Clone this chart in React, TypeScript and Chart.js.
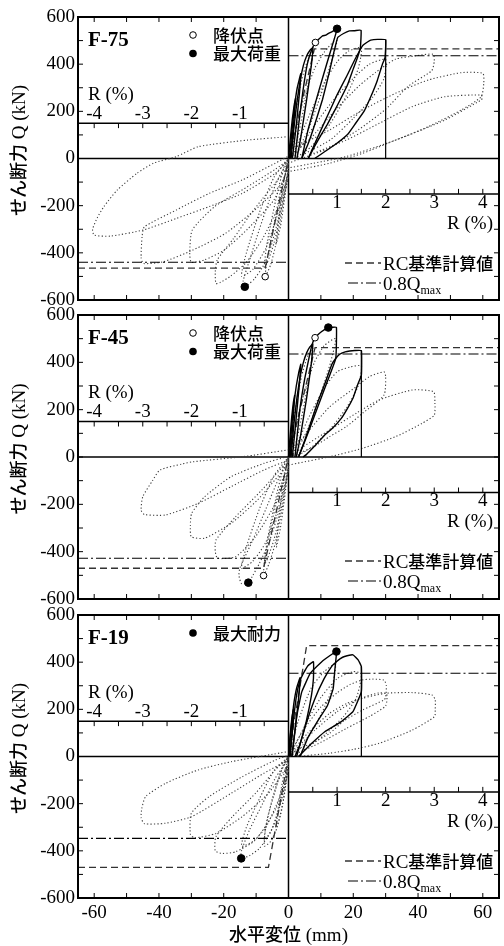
import { useEffect, useRef } from "react";
import { Chart, registerables } from "chart.js";

Chart.register(...registerables);

type Pt = [number, number];

// ---- shared axes ----
const X_RANGE: Pt = [-65, 65];
const Y_RANGE: Pt = [-600, 600];
const X_TICK_LABELS = [-60, -40, -20, 0, 20, 40, 60];
const Y_TICK_LABELS = [-600, -400, -200, 0, 200, 400, 600];
const X_MINOR_STEP = 10;
const Y_MINOR_STEP = 100;
const R_LABELS_NEG = [-4, -3, -2, -1];
const R_LABELS_POS = [1, 2, 3, 4];
const R_MINOR = [0.5, 1, 1.5, 2, 2.5, 3, 3.5, 4];
const MM_PER_R = 15; // 1 % drift = 15 mm
const R_AXIS_Q = 150;

// ---- F-75 ----
const F75_SOLID: Pt[][] = [
  [[0, 0], [0.6, 90], [1.2, 170], [1.8, 230], [2.2, 255], [1.6, 150], [0.9, 50], [0.5, 0]],
  [[0.3, 0], [1.0, 110], [1.8, 215], [2.7, 300], [3.8, 360], [3.4, 280], [2.4, 140], [1.2, 0]],
  [[0.8, 0], [1.6, 120], [2.6, 240], [3.6, 330], [4.6, 395], [5.6, 435], [6.6, 458], [7.5, 470], [7.1, 400], [5.6, 250], [3.8, 90], [2.6, 0]],
  [[2.0, 0], [3.2, 150], [4.5, 290], [5.8, 400], [7.0, 455], [8.3, 492], [9.5, 508], [10.5, 520], [11.5, 523], [12.5, 532], [13.5, 538], [15, 550], [14.2, 510], [12, 410], [9, 270], [6, 120], [4.1, 0]],
  [[4.1, 0], [6, 60], [8, 140], [10.5, 250], [12.5, 360], [14, 450], [15.2, 513], [17, 530], [18.8, 541], [20.5, 542], [22.4, 544], [22.2, 471], [21.3, 428], [20, 380], [18.3, 315], [16, 250], [14.2, 202], [12, 145], [10.2, 103], [8, 50], [6.1, 0]],
  [[6.1, 0], [9, 90], [12, 180], [15, 270], [18, 350], [20.5, 420], [22, 458], [23, 480], [24.5, 495], [25.4, 502], [27.5, 505], [30, 504], [29.8, 428], [29, 400], [27.4, 330], [25.5, 265], [23.4, 202], [20.5, 145], [18.3, 103], [14, 55], [8.1, 0]],
];
const F75_DROP: Pt[] = [[30, 504], [30, 0]];
const F75_DOTTED: Pt[][] = [
  [[0, -20], [-1, -150], [-2.5, -290], [-3.75, -360], [-3, -250], [-1.5, -100], [0, 0]],
  [[0, -60], [-2, -220], [-4, -370], [-5.5, -450], [-7.2, -501], [-6.5, -420], [-4.5, -280], [-2.5, -140], [0, -20]],
  [[0, -40], [-2, -200], [-4.5, -360], [-6.5, -440], [-7.5, -460], [-6.5, -350], [-4, -180], [-1.5, -40], [0, 0]],
  [[0, -80], [-3, -250], [-6, -400], [-8, -460], [-10.5, -510], [-12.5, -535], [-13.5, -544], [-14, -520], [-12, -430], [-9, -300], [-6, -180], [-3, -80], [0, -10]],
  [[0, -50], [-3, -220], [-7, -380], [-11, -470], [-14.5, -500], [-13, -400], [-9, -230], [-4.5, -80], [0, 0]],
  [[0, -60], [-3, -200], [-8, -340], [-13, -440], [-18, -500], [-21, -525], [-22.4, -530], [-22.6, -480], [-22, -430], [-17, -340], [-12.3, -247], [-8, -170], [-4.1, -105], [0, -30]],
  [[0, -40], [-4.5, -176], [-12.7, -300], [-20, -390], [-26, -430], [-30, -440], [-30.5, -400], [-29.7, -303], [-22.8, -204], [-12.7, -120], [-4, -45], [0, -5]],
  [[0, -20], [-2.1, -105], [-9.2, -204], [-19.4, -317], [-29.5, -388], [-38.7, -438], [-44.8, -445], [-45.5, -420], [-45.2, -330], [-44.5, -290], [-34.6, -218], [-24.5, -148], [-14.3, -91], [-4.1, -20], [0, 10]],
  [[0, -6], [-4.1, -63], [-14.3, -148], [-24.5, -204], [-34.6, -254], [-44.8, -303], [-54.9, -329], [-60, -325], [-60.5, -300], [-59, -250], [-57, -204], [-52.9, -134], [-46.8, -63], [-41.7, -20], [-34.6, 8], [-27.9, 50], [-12.7, 78], [-0.5, 92]],
  [[0, 0], [2, 180], [4, 330], [6, 420], [7.5, 455], [6.5, 350], [4.5, 200], [2.5, 70], [0.5, 0]],
  [[0.5, 0], [4, 220], [8, 380], [11, 450], [13.5, 490], [15, 500], [13, 400], [10, 270], [6, 120], [2, 10]],
  [[1, 0], [6, 170], [11, 320], [15, 410], [18.5, 455], [22.5, 470], [21.5, 380], [18, 270], [13, 150], [7, 50], [2, 0]],
  [[2, 10], [8, 140], [14, 250], [20, 340], [25, 400], [30, 420], [29.5, 340], [26, 260], [20, 170], [13, 80], [5, 20]],
  [[0.5, 11], [6.6, 82], [14.7, 209], [21.8, 308], [26.9, 365], [33, 421], [39.1, 435], [44.7, 442], [45, 410], [44.2, 372], [37.1, 308], [30, 209], [21.8, 124], [11.7, 40], [0.5, -17]],
  [[2.6, 50], [12.7, 121], [22.9, 206], [33.1, 277], [43.2, 333], [53.4, 364], [60, 361], [60.3, 320], [59.5, 262], [53.4, 206], [43.2, 135], [33.1, 78], [22.9, 22], [12.7, -20], [2.6, -49], [0, -55]],
  [[7.7, 22], [17.8, 78], [28, 149], [38.2, 220], [48.3, 262], [59.5, 269], [59.8, 255], [59.5, 248], [48.3, 163], [33.1, 78], [17.8, 8], [7.7, -20], [0, -40]],
];
const F75_RC: Pt[] = [[-65, -465], [-7.2, -465], [0, 0], [8, 465], [65, 465]];
const F75_Q08: Pt[][] = [[[0, 436], [65, 436]], [[-65, -440], [0, -440]]];
const F75_YIELD: Pt[] = [[8.3, 492], [-7.2, -501]];
const F75_PEAK: Pt[] = [[15, 550], [-13.5, -544]];

// ---- F-45 ----
const F45_SOLID: Pt[][] = [
  [[0, 0], [0.5, 90], [1.0, 170], [1.5, 230], [1.9, 260], [1.3, 130], [0.5, 0]],
  [[0.3, 0], [0.9, 120], [1.6, 220], [2.4, 300], [3.2, 360], [3.8, 392], [3.3, 300], [2.2, 140], [1.2, 0]],
  [[0.8, 0], [1.6, 130], [2.6, 250], [3.6, 340], [4.6, 400], [5.6, 440], [6.6, 465], [7.5, 478], [7.1, 400], [5.6, 250], [3.6, 80], [2.4, 0]],
  [[2.0, 0], [3.5, 200], [5, 330], [6.5, 430], [7.4, 480], [8.2, 504], [9.5, 522], [11, 537], [12.3, 547], [13.5, 548], [14.8, 548], [14.6, 417], [12, 320], [9, 210], [6, 100], [3.1, 0]],
  [[3.1, 0], [5, 70], [7, 150], [9, 230], [11.5, 320], [13.3, 389], [14.5, 415], [15.8, 434], [17.5, 444], [18.9, 448], [20.5, 450], [22.5, 450], [22.5, 346], [21.2, 300], [19.9, 248], [18, 200], [16.3, 163], [13.5, 120], [11.2, 93], [8, 45], [5.5, 10], [4.5, 0]],
];
const F45_DROP: Pt[] = [[22.5, 450], [22.5, 0]];
const F45_DOTTED: Pt[][] = [
  [[0, -20], [-1, -150], [-2.5, -300], [-3.75, -380], [-3, -260], [-1.5, -100], [0, 0]],
  [[0, -50], [-2, -220], [-4, -360], [-6, -450], [-7.7, -501], [-7.3, -430], [-5.5, -300], [-3, -150], [0, -10]],
  [[0, -40], [-2, -200], [-4.5, -350], [-6.5, -430], [-7.5, -455], [-6.5, -350], [-4, -180], [-1.5, -40], [0, 0]],
  [[0, -60], [-3, -230], [-6, -360], [-9, -450], [-11, -500], [-12.4, -531], [-14.5, -535], [-15.3, -500], [-15, -469], [-11, -350], [-7, -220], [-3, -90], [0, -20]],
  [[0, -50], [-3, -210], [-7, -360], [-11, -440], [-14.5, -470], [-13, -380], [-9, -220], [-4.5, -80], [0, 0]],
  [[0, -41], [-4.1, -196], [-10.2, -337], [-16.3, -421], [-21.9, -428], [-22.6, -400], [-22.4, -351], [-16.3, -252], [-8.2, -139], [0, -13]],
  [[0, -20], [-2.5, -69], [-9.6, -182], [-17.7, -280], [-25.9, -343], [-30, -337], [-30.3, -290], [-29.9, -238], [-25.9, -168], [-17.7, -83], [-7.6, -27], [-0.5, 1]],
  [[0, -13], [-7.6, -55], [-17.7, -125], [-27.9, -196], [-38, -245], [-44.5, -243], [-45.5, -225], [-45, -168], [-42, -100], [-39.7, -55], [-33, -30], [-29.5, -20], [-14.3, 1], [0, 30]],
  [[0, 0], [2, 190], [4, 340], [6, 430], [7.5, 460], [6.5, 350], [4.5, 200], [2.5, 70], [0.5, 0]],
  [[0.5, 0], [4, 230], [8, 400], [11, 470], [14.5, 500], [13, 400], [10, 270], [6, 120], [2, 10]],
  [[1, 0], [6, 160], [11, 290], [15, 360], [19, 380], [22.5, 385], [21.5, 300], [18, 210], [13, 120], [7, 40], [2, 0]],
  [[0.6, 16], [5.6, 100], [12.7, 212], [20.9, 297], [24.9, 339], [29.5, 360], [30, 340], [29.5, 262], [22.9, 185], [17.8, 128], [12.7, 86], [7.7, 43], [0.6, 1]],
  [[0.5, 1], [4.6, 44], [12.7, 114], [20.9, 185], [28, 241], [38.2, 283], [44.8, 276], [45.2, 230], [45, 177], [41.2, 142], [33.1, 86], [22.9, 37], [12.7, 1], [2.6, -27], [0, -35]],
];
const F45_RC: Pt[] = [[-65, -470], [-7.7, -470], [0, 0], [8.2, 462], [65, 462]];
const F45_Q08: Pt[][] = [[[0, 435], [65, 435]], [[-65, -428], [0, -428]]];
const F45_YIELD: Pt[] = [[8.2, 504], [-7.7, -501]];
const F45_PEAK: Pt[] = [[12.3, 547], [-12.4, -531]];

// ---- F-19 ----
const F19_SOLID: Pt[][] = [
  [[0, 0], [0.5, 90], [1.0, 160], [1.5, 200], [1.0, 90], [0.4, 0]],
  [[0, 0], [0.8, 120], [1.6, 220], [2.5, 290], [3.6, 335], [3.0, 230], [1.9, 100], [1.0, 0]],
  [[0.5, 0], [1.5, 150], [2.5, 260], [3.5, 320], [4.5, 350], [6, 385], [7.7, 402], [7.7, 331], [7.1, 260], [5.5, 150], [3.5, 50], [2.0, 0]],
  [[1.1, 0], [2.6, 175], [4.1, 274], [6.7, 352], [10.2, 401], [12.5, 425], [14.8, 445], [14.3, 366], [13.8, 288], [12, 215], [9, 150], [6, 80], [3.6, 0]],
  [[2.5, 0], [5, 120], [8, 240], [11, 330], [13.5, 385], [14.8, 402], [16, 415], [17.3, 424], [19.9, 431], [21.5, 410], [22.5, 381], [22.5, 275], [19.9, 190], [16.3, 148], [11.2, 105], [7.2, 56], [3.1, 0]],
];
const F19_DROP: Pt[] = [[22.5, 381], [22.5, 0]];
const F19_DOTTED: Pt[][] = [
  [[0, -10], [-1, -130], [-2.3, -240], [-3.75, -300], [-3, -200], [-1.5, -80], [0, 0]],
  [[0, -40], [-1.5, -180], [-3.5, -300], [-5.5, -360], [-7.5, -380], [-7, -300], [-5, -180], [-2.5, -70], [0, 0]],
  [[0, -30], [-2, -170], [-4.5, -290], [-6.5, -340], [-7.5, -350], [-6.5, -260], [-4, -140], [-1.5, -30], [0, 0]],
  [[0, -60], [-2.5, -200], [-5.5, -320], [-9, -390], [-12, -420], [-14.6, -432], [-14.5, -400], [-12, -310], [-8, -200], [-4, -90], [0, -10]],
  [[0, -40], [-3, -180], [-7, -300], [-11, -360], [-14.5, -380], [-13, -300], [-9, -180], [-4.5, -60], [0, 0]],
  [[0, -60], [-1.1, -114], [-4.1, -227], [-10.2, -354], [-16.3, -404], [-20.4, -411], [-22.6, -400], [-22.4, -340], [-17.3, -255], [-10.2, -156], [-4.1, -57], [0, -5]],
  [[0, -30], [-1.1, -57], [-6.2, -156], [-14.3, -255], [-22.4, -326], [-29, -345], [-30.3, -330], [-30, -241], [-24.5, -170], [-14.3, -86], [-4.1, -15], [0, 5]],
  [[0, -15], [-7.6, -71], [-17.7, -156], [-29.9, -255], [-38, -283], [-44.5, -285], [-45.5, -260], [-45.3, -220], [-44.1, -170], [-38, -114], [-27.9, -57], [-17.7, -22], [-0.5, 20]],
  [[0, 0], [3, 150], [7, 290], [11, 360], [14.5, 390], [13, 270], [9, 150], [4, 40], [0.5, 0]],
  [[0.5, 5], [5, 130], [10, 250], [15, 330], [20, 360], [22.5, 350], [21, 250], [17, 170], [11, 90], [4, 20]],
  [[0.5, 15], [5, 120], [10, 210], [15, 270], [19, 305], [22.9, 325], [26, 328], [29.5, 324], [30.2, 300], [30, 250], [29.5, 240], [22.9, 197], [17, 150], [12.7, 98], [7, 55], [2.6, 28], [0.5, 5]],
  [[0.5, 5], [8, 110], [15, 190], [22, 245], [28, 270], [30.3, 265], [30, 215], [25, 170], [18, 120], [10, 60], [2, 10]],
  [[0.5, 10], [6, 100], [12.7, 183], [18, 225], [22.9, 247], [30, 268], [38.2, 271], [44.3, 261], [45.3, 240], [45.3, 200], [45.1, 169], [38.2, 112], [28, 56], [20, 30], [12.7, 14], [2.6, 0]],
];
const F19_RC: Pt[] = [[-65, -470], [-6.2, -470], [0, 0], [5.6, 470], [65, 470]];
const F19_Q08: Pt[][] = [[[0, 353], [65, 353]], [[-65, -347], [0, -347]]];
const F19_PEAK: Pt[] = [[14.8, 445], [-14.6, -432]];

interface LegendRow { open: boolean; text: string }
interface Panel {
  name: string;
  top: number;
  bottom: number;
  showX: boolean;
  solid: Pt[][];
  dotted: Pt[][];
  drop: Pt[];
  rc: Pt[];
  q08: Pt[][];
  yieldPts: Pt[] | null;
  peakPts: Pt[];
  legend: LegendRow[];
}

const PANELS: Panel[] = [
  { name: "F-75", top: 17, bottom: 300, showX: false, solid: F75_SOLID, dotted: F75_DOTTED, drop: F75_DROP, rc: F75_RC, q08: F75_Q08, yieldPts: F75_YIELD, peakPts: F75_PEAK, legend: [{ open: true, text: "降伏点" }, { open: false, text: "最大荷重" }] },
  { name: "F-45", top: 315, bottom: 599, showX: false, solid: F45_SOLID, dotted: F45_DOTTED, drop: F45_DROP, rc: F45_RC, q08: F45_Q08, yieldPts: F45_YIELD, peakPts: F45_PEAK, legend: [{ open: true, text: "降伏点" }, { open: false, text: "最大荷重" }] },
  { name: "F-19", top: 615, bottom: 898, showX: true, solid: F19_SOLID, dotted: F19_DOTTED, drop: F19_DROP, rc: F19_RC, q08: F19_Q08, yieldPts: null, peakPts: F19_PEAK, legend: [{ open: false, text: "最大耐力" }] },
];

const W = 504;
const H = 946;
const SERIF = '"Liberation Serif", "Times New Roman", serif';
const GOTHIC = '"Noto Sans CJK JP", "Noto Sans", sans-serif';

type Part = { text: string; font: string; dy?: number };

function seg(ctx: CanvasRenderingContext2D, x1: number, y1: number, x2: number, y2: number) {
  ctx.beginPath();
  ctx.moveTo(x1, y1);
  ctx.lineTo(x2, y2);
  ctx.stroke();
}

function drawParts(ctx: CanvasRenderingContext2D, parts: Part[], x: number, y: number, align: "left" | "center" | "right") {
  ctx.textAlign = "left";
  ctx.textBaseline = "alphabetic";
  const widths = parts.map((p) => {
    ctx.font = p.font;
    return ctx.measureText(p.text).width;
  });
  const total = widths.reduce((s, w) => s + w, 0);
  let cx = align === "left" ? x : align === "center" ? x - total / 2 : x - total;
  parts.forEach((p, i) => {
    ctx.font = p.font;
    ctx.fillText(p.text, cx, y + (p.dy || 0));
    cx += widths[i];
  });
}

function decorPlugin(p: Panel) {
  return {
    id: "decor",
    beforeDatasetsDraw(chart: any) {
      const { ctx, chartArea: a } = chart;
      const xs = chart.scales.x;
      const ys = chart.scales.y;
      const x0 = xs.getPixelForValue(0);
      const y0 = ys.getPixelForValue(0);
      const yN = ys.getPixelForValue(R_AXIS_Q);
      const yP = ys.getPixelForValue(-R_AXIS_Q);
      ctx.save();
      ctx.strokeStyle = "#000";
      ctx.lineWidth = 1.5;
      seg(ctx, x0, a.top, x0, a.bottom);
      seg(ctx, a.left, y0, a.right, y0);
      seg(ctx, a.left, yN, x0, yN);
      seg(ctx, x0, yP, a.right, yP);
      ctx.lineWidth = 1;
      R_MINOR.forEach((r) => {
        const xn = xs.getPixelForValue(-r * MM_PER_R);
        seg(ctx, xn, yN, xn, yN + 5);
        const xp = xs.getPixelForValue(r * MM_PER_R);
        seg(ctx, xp, yP, xp, yP - 5);
      });
      ctx.restore();
    },
    afterDraw(chart: any) {
      const { ctx, chartArea: a } = chart;
      const xs = chart.scales.x;
      const ys = chart.scales.y;
      const yN = ys.getPixelForValue(R_AXIS_Q);
      const yP = ys.getPixelForValue(-R_AXIS_Q);
      ctx.save();
      ctx.strokeStyle = "#000";
      ctx.fillStyle = "#000";

      // inward tick marks on all four sides
      ctx.lineWidth = 1;
      for (let v = Y_RANGE[0] + Y_MINOR_STEP; v < Y_RANGE[1]; v += Y_MINOR_STEP) {
        const y = ys.getPixelForValue(v);
        seg(ctx, a.left, y, a.left + 5, y);
        seg(ctx, a.right, y, a.right - 5, y);
      }
      for (let v = Math.ceil(X_RANGE[0] / X_MINOR_STEP) * X_MINOR_STEP; v <= X_RANGE[1]; v += X_MINOR_STEP) {
        const x = xs.getPixelForValue(v);
        seg(ctx, x, a.top, x, a.top + 5);
        seg(ctx, x, a.bottom, x, a.bottom - 5);
      }
      // frame
      ctx.lineWidth = 2;
      ctx.strokeRect(a.left, a.top, a.right - a.left, a.bottom - a.top);

      // drift-ratio axes labels
      ctx.font = `19px ${SERIF}`;
      ctx.textAlign = "center";
      ctx.textBaseline = "middle";
      R_LABELS_NEG.forEach((r) => ctx.fillText(String(r), xs.getPixelForValue(r * MM_PER_R), yN - 9));
      R_LABELS_POS.forEach((r) => ctx.fillText(String(r), xs.getPixelForValue(r * MM_PER_R), yP + 9));
      ctx.textAlign = "left";
      ctx.fillText("R (%)", a.left + 10, yN - 28);
      ctx.textAlign = "right";
      ctx.fillText("R (%)", a.right - 6, yP + 30);

      // specimen name
      ctx.font = `bold 21px ${SERIF}`;
      ctx.textAlign = "left";
      ctx.textBaseline = "alphabetic";
      ctx.fillText(p.name, a.left + 10, a.top + 29);

      // marker legend
      p.legend.forEach((row, i) => {
        const cy = a.top + 18 + i * 18.5;
        ctx.beginPath();
        ctx.arc(193, cy, row.open ? 3.3 : 3.8, 0, Math.PI * 2);
        if (row.open) {
          ctx.fillStyle = "#fff";
          ctx.fill();
          ctx.lineWidth = 1;
          ctx.stroke();
        } else {
          ctx.fillStyle = "#000";
          ctx.fill();
        }
        ctx.fillStyle = "#000";
        drawParts(ctx, [{ text: row.text, font: `500 17px ${GOTHIC}` }], 213, cy + 6.5, "left");
      });

      // line legend
      const ly1 = a.top + 246;
      const ly2 = a.top + 266;
      ctx.lineWidth = 1.3;
      ctx.strokeStyle = "#333";
      ctx.setLineDash([7, 4]);
      seg(ctx, 345, ly1, 381, ly1);
      ctx.strokeStyle = "#000";
      ctx.lineWidth = 1.1;
      ctx.setLineDash([10, 3, 2, 3]);
      seg(ctx, 348, ly2, 381, ly2);
      ctx.setLineDash([]);
      drawParts(ctx, [
        { text: "RC", font: `19px ${SERIF}` },
        { text: "基準計算値", font: `500 17px ${GOTHIC}` },
      ], 383, ly1 + 6.5, "left");
      drawParts(ctx, [
        { text: "0.8Q", font: `19px ${SERIF}` },
        { text: "max", font: `12px ${SERIF}`, dy: 4 },
      ], 383, ly2 + 6.5, "left");

      // axis titles
      ctx.save();
      ctx.translate(25, (a.top + a.bottom) / 2 - 8);
      ctx.rotate(-Math.PI / 2);
      drawParts(ctx, [
        { text: "せん断力", font: `500 18px ${GOTHIC}` },
        { text: " Q (kN)", font: `19px ${SERIF}` },
      ], 0, 0, "center");
      ctx.restore();
      if (p.showX) {
        drawParts(ctx, [
          { text: "水平変位", font: `500 18px ${GOTHIC}` },
          { text: " (mm)", font: `19px ${SERIF}` },
        ], (a.left + a.right) / 2, 941, "center");
      }
      ctx.restore();
    },
  };
}

function buildChart(canvas: HTMLCanvasElement, p: Panel) {
  const xy = (pts: Pt[]) => pts.map(([x, y]) => ({ x, y }));
  const line = (pts: Pt[], extra: Record<string, unknown>) => ({
    data: xy(pts),
    showLine: true,
    pointRadius: 0,
    pointHoverRadius: 0,
    fill: false,
    ...extra,
  });
  const datasets: any[] = [];
  datasets.push({
    data: xy(p.peakPts),
    showLine: false,
    pointRadius: 3.8,
    pointBackgroundColor: "#000",
    pointBorderColor: "#000",
    pointBorderWidth: 1,
    order: 0,
  });
  if (p.yieldPts) {
    datasets.push({
      data: xy(p.yieldPts),
      showLine: false,
      pointRadius: 3.3,
      pointBackgroundColor: "#fff",
      pointBorderColor: "#000",
      pointBorderWidth: 1,
      order: 0,
    });
  }
  p.solid.forEach((s) => datasets.push(line(s, { borderColor: "#000", borderWidth: 1.4, tension: 0.1, order: 1 })));
  datasets.push(line(p.drop, { borderColor: "#000", borderWidth: 1.2, order: 1 }));
  datasets.push(line(p.rc, { borderColor: "#333", borderWidth: 1.3, borderDash: [7, 4], order: 2 }));
  p.q08.forEach((q) => datasets.push(line(q, { borderColor: "#000", borderWidth: 1.1, borderDash: [10, 3, 2, 3], order: 2 })));
  p.dotted.forEach((d) => datasets.push(line(d, { borderColor: "#3c3c3c", borderWidth: 1.1, borderDash: [1.2, 2.2], tension: 0.2, order: 3 })));

  const tickFont = { family: SERIF, size: 19 };
  return new Chart(canvas, {
    type: "scatter",
    data: { datasets },
    options: {
      animation: false,
      responsive: false,
      maintainAspectRatio: false,
      devicePixelRatio: 1,
      events: [],
      layout: {
        padding: { left: 8, right: 1, top: p.top, bottom: H - p.bottom - (p.showX ? 40 : 0) },
      },
      plugins: { legend: { display: false }, tooltip: { enabled: false } },
      scales: {
        x: {
          type: "linear",
          min: X_RANGE[0],
          max: X_RANGE[1],
          display: p.showX,
          afterBuildTicks: (s: any) => {
            s.ticks = X_TICK_LABELS.map((v) => ({ value: v }));
          },
          afterFit: (s: any) => {
            s.height = p.showX ? 40 : 0;
            s.paddingLeft = 0;
            s.paddingRight = 0;
          },
          grid: { display: false, drawTicks: false },
          border: { display: false },
          ticks: { font: tickFont, color: "#000", padding: 4, maxRotation: 0, autoSkip: false },
        },
        y: {
          type: "linear",
          min: Y_RANGE[0],
          max: Y_RANGE[1],
          afterBuildTicks: (s: any) => {
            s.ticks = Y_TICK_LABELS.map((v) => ({ value: v }));
          },
          afterFit: (s: any) => {
            s.width = 70;
            s.paddingTop = 0;
            s.paddingBottom = 0;
          },
          grid: { display: false, drawTicks: false },
          border: { display: false },
          ticks: { font: tickFont, color: "#000", padding: 3, autoSkip: false },
        },
      },
    } as any,
    plugins: [decorPlugin(p)],
  });
}

export default function App() {
  const refs = useRef<(HTMLCanvasElement | null)[]>([]);
  useEffect(() => {
    const charts = PANELS.map((p, i) => buildChart(refs.current[i] as HTMLCanvasElement, p));
    return () => charts.forEach((c) => c.destroy());
  }, []);
  return (
    <div style={{ position: "absolute", left: 0, top: 0, width: W, height: H, background: "#fff", overflow: "hidden" }}>
      {PANELS.map((p, i) => (
        <canvas
          key={p.name}
          ref={(el) => {
            refs.current[i] = el;
          }}
          width={W}
          height={H}
          style={{ position: "absolute", left: 0, top: 0, width: W, height: H }}
        />
      ))}
    </div>
  );
}
